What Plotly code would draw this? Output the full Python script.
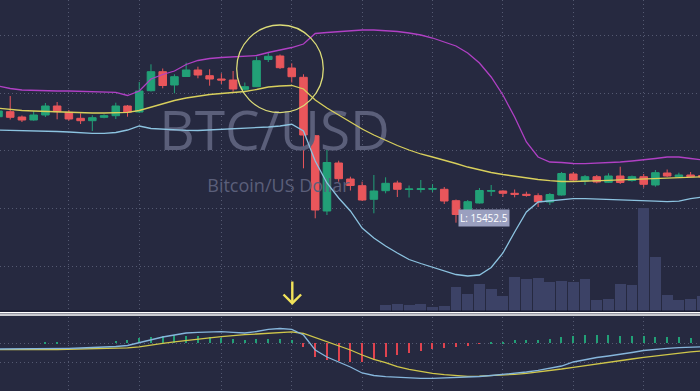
import plotly.graph_objects as go

# ---------------- data ----------------
idx = list(range(61))

open_ = [19692, 19892, 19680, 19560, 19760, 20120, 19868, 19628, 19532, 19668,
         19732, 20120, 19880, 20732, 21492, 20960, 21300, 21560, 21332, 21200,
         21160, 20788, 20892, 21980, 22120, 21640, 21268, 18932, 15920, 17840,
         17200, 16932, 16388, 16732, 17040, 16780, 16780, 16788, 16788, 16332,
         15840, 16240, 16708, 16720, 16628, 16588, 16532, 16280, 16560, 17400,
         17120, 17292, 17068, 17320, 17140, 17292, 16960, 17440, 17292, 17360,
         17340]
high = [19960, 20520, 19740, 19920, 20240, 20280, 19960, 19828, 19748, 19788,
        20252, 20160, 21080, 21788, 21620, 21388, 21852, 21692, 21588, 21428,
        21520, 21060, 22092, 22268, 22180, 21828, 21388, 18960, 18480, 17932,
        17292, 17092, 17360, 17268, 17132, 16940, 17160, 17000, 16880, 16380,
        16360, 16840, 16960, 16748, 16780, 16692, 16628, 16640, 17480, 17480,
        17360, 17360, 17428, 17692, 17340, 17400, 17560, 17580, 17452, 17480,
        17440]
low = [19640, 19580, 19480, 19532, 19680, 19588, 19532, 19400, 19120, 19628,
       19600, 19692, 19840, 20700, 20828, 20628, 21280, 21228, 20932, 21000,
       20692, 20692, 20880, 21880, 21600, 21060, 17628, 15628, 15760, 17092,
       16740, 16320, 15828, 16628, 16480, 16460, 16660, 16680, 16200, 15452.5,
       15760, 16220, 16520, 16480, 16468, 16492, 16080, 16160, 16540, 17092,
       16960, 17028, 17040, 17000, 17092, 16852, 16892, 17280, 17268, 17280,
       17240]
close = [19920, 19668, 19560, 19760, 20120, 19892, 19600, 19532, 19652, 19732,
         20120, 19868, 20720, 21492, 20940, 21292, 21560, 21360, 21200, 21160,
         20800, 20892, 21932, 22108, 21652, 21292, 18960, 15960, 17860, 17212,
         16940, 16360, 16720, 17028, 16788, 16800, 16812, 16820, 16320, 15780,
         16292, 16740, 16740, 16628, 16588, 16548, 16292, 16580, 17420, 17160,
         17292, 17080, 17320, 17060, 17292, 16988, 17452, 17320, 17360, 17292,
         17280]

bb_basis = [20028, 19980, 19940, 19920, 19900, 19880, 19868, 19852, 19840, 19840,
            19840, 19868, 19940, 20080, 20220, 20340, 20440, 20520, 20580, 20620,
            20652, 20700, 20780, 20880, 20920, 20940, 20800, 20360, 20040, 19760,
            19480, 19200, 18960, 18740, 18540, 18360, 18200, 18080, 17960, 17820,
            17680, 17560, 17460, 17380, 17308, 17240, 17180, 17132, 17100, 17100,
            17108, 17128, 17148, 17168, 17188, 17200, 17220, 17240, 17260, 17280,
            17288]
bb_upper = [20920, 20820, 20760, 20740, 20732, 20720, 20720, 20708, 20700, 20680,
            20668, 20540, 20720, 21200, 21380, 21520, 21780, 21940, 22020, 22060,
            22080, 22092, 22140, 22260, 22360, 22460, 22600, 23020, 23060, 23100,
            23140, 23160, 23160, 23140, 23100, 23040, 22960, 22840, 22680, 22520,
            22240, 21840, 21280, 20560, 19680, 18680, 18080, 17880, 17860, 17820,
            17812, 17828, 17852, 17880, 17920, 17960, 18020, 18080, 18080, 18020,
            17960]
bb_lower = [19160, 19152, 19140, 19132, 19120, 19100, 19080, 19052, 19028, 19028,
            19060, 19160, 19320, 19220, 19188, 19160, 19148, 19140, 19160, 19180,
            19200, 19220, 19240, 19280, 19320, 19388, 19120, 17920, 17040, 16440,
            15920, 15240, 14840, 14520, 14240, 13980, 13820, 13680, 13520, 13380,
            13320, 13360, 13660, 14240, 15080, 15880, 16280, 16320, 16380, 16412,
            16412, 16400, 16388, 16372, 16352, 16332, 16312, 16292, 16312, 16412,
            16480]

vol_idx = list(range(33, 61))
volume = [600, 670, 600, 700, 370, 530, 2400, 1700, 2730, 2170,
          1470, 3370, 3200, 3270, 2870, 3030, 2870, 3200, 1070, 1170,
          2670, 2570, 10340, 5370, 1570, 1070, 1170, 1470]

macd = [-57, -57, -57, -57, -54, -52, -50, -47, -44, -40,
        -32, -22, 8, 33, 63, 83, 103, 110, 116, 116,
        110, 103, 118, 140, 148, 140, 83, -67, -137, -187,
        -237, -297, -322, -334, -340, -347, -350, -350, -347, -344,
        -337, -332, -322, -312, -300, -287, -270, -252, -227, -187,
        -162, -142, -127, -112, -92, -72, -59, -50, -44, -37,
        -34]
signal = [-64, -62, -62, -62, -62, -62, -59, -57, -55, -52,
          -50, -45, -35, -15, 0, 15, 30, 43, 55, 66,
          78, 86, 93, 101, 108, 115, 98, 58, 18, -24,
          -67, -117, -160, -194, -234, -260, -282, -300, -314, -324,
          -330, -329, -325, -317, -310, -300, -287, -272, -257, -240,
          -222, -204, -187, -172, -157, -140, -125, -110, -97, -85,
          -77]
hist = [0, 0, 0, 0, 15, 15, 0, 0, 0, 0,
        27, 33, 55, 67, 73, 83, 77, 73, 60, 50,
        40, 33, 40, 47, 43, 33, -33, -140, -167, -173,
        -183, -183, -167, -140, -117, -100, -73, -60, -50, -33,
        -27, -7, 7, 17, 33, 33, 33, 43, 67, 77,
        83, 83, 83, 73, 73, 73, 67, 67, 60, 50,
        40]

x_grid = [6, 12, 19, 25, 31, 37, 43, 49, 55]
price_grid = [13720, 16040, 18340, 20640, 22960]
macd_grid = [0, -190]

# ---------------- style ----------------
BG = '#262940'
GRID = '#545971'
GREEN = '#22a077'
RED = '#e9565b'
W, H = 700, 391


def px(x):
    return x / W


def py(y):
    return 1 - y / H


fig = go.Figure()

# watermark (drawn first so that it sits under everything)
fig.add_trace(go.Scatter(x=[13.7], y=[18924], mode='text', text=['BTC/USD'],
                         textposition='middle right',
                         textfont=dict(family='Open Sans', size=55, color='#5b5f7a'),
                         hoverinfo='skip', showlegend=False))
fig.add_trace(go.Scatter(x=[17.8], y=[16860], mode='text', text=['Bitcoin/US Dollar'],
                         textposition='middle right',
                         textfont=dict(family='Open Sans', size=18, color='#5b5f7a'),
                         hoverinfo='skip', showlegend=False))

fig.add_trace(go.Candlestick(x=idx, open=open_, high=high, low=low, close=close,
                             increasing=dict(line=dict(color=GREEN, width=1), fillcolor=GREEN),
                             decreasing=dict(line=dict(color=RED, width=1), fillcolor=RED),
                             whiskerwidth=0, showlegend=False, hoverinfo='skip'))

fig.add_trace(go.Scatter(x=idx, y=bb_upper, mode='lines', line=dict(color='#b040c4', width=1.3),
                         showlegend=False, hoverinfo='skip'))
fig.add_trace(go.Scatter(x=idx, y=bb_lower, mode='lines', line=dict(color='#8cc3e0', width=1.3),
                         showlegend=False, hoverinfo='skip'))
fig.add_trace(go.Scatter(x=idx, y=bb_basis, mode='lines', line=dict(color='#d8cf5c', width=1.3),
                         showlegend=False, hoverinfo='skip'))

fig.add_trace(go.Bar(x=vol_idx, y=volume, width=0.93, marker=dict(color='#3c4266', line=dict(width=0)),
                     yaxis='y3', showlegend=False, hoverinfo='skip'))

# MACD panel
fig.add_trace(go.Bar(x=idx, y=hist, width=0.1,
                     marker=dict(color=[GREEN if v >= 0 else '#e0434f' for v in hist], line=dict(width=0)),
                     xaxis='x2', yaxis='y2', showlegend=False, hoverinfo='skip'))
fig.add_trace(go.Scatter(x=idx, y=signal, mode='lines', line=dict(color='#cfc64a', width=1.3),
                         xaxis='x2', yaxis='y2', showlegend=False, hoverinfo='skip'))
fig.add_trace(go.Scatter(x=idx, y=macd, mode='lines', line=dict(color='#86b6dc', width=1.3),
                         xaxis='x2', yaxis='y2', showlegend=False, hoverinfo='skip'))

main_dom = [1 - 311 / H, 1]
macd_dom = [0, 74 / H]
xr = [0.13, 59.8]

axis_common = dict(showticklabels=False, zeroline=False, showline=False, ticks='',
                   gridcolor=GRID, griddash='1px,3px', gridwidth=1)

fig.update_layout(
    width=W, height=H, margin=dict(l=0, r=0, t=0, b=0),
    paper_bgcolor=BG, plot_bgcolor=BG, showlegend=False,
    boxgap=0.3, boxgroupgap=0.08, bargap=0,
    xaxis=dict(domain=[0, 1], range=xr, anchor='y', tickvals=x_grid, showgrid=True,
               rangeslider=dict(visible=False), **axis_common),
    yaxis=dict(domain=main_dom, range=[11920, 24360], tickvals=price_grid, showgrid=True,
               anchor='x', **axis_common),
    yaxis3=dict(overlaying='y', range=[0, 31100], visible=False, showgrid=False, anchor='x'),
    xaxis2=dict(domain=[0, 1], range=xr, anchor='y2', matches='x', tickvals=x_grid, showgrid=True,
                **axis_common),
    yaxis2=dict(domain=macd_dom, range=[-477, 263], tickvals=macd_grid, showgrid=True,
                anchor='x2', **axis_common),
    shapes=[
        # highlight circle
        dict(type='circle', xref='paper', yref='paper',
             x0=px(236.7), x1=px(323.3), y0=py(112.7), y1=py(25),
             line=dict(color='#dcdc78', width=1.3)),
        # arrow
        dict(type='path', xref='paper', yref='paper',
             path=f'M {px(292.3)} {py(281.5)} L {px(292.3)} {py(302.5)}',
             line=dict(color='#f2e35a', width=2.4)),
        dict(type='path', xref='paper', yref='paper',
             path=f'M {px(283.5)} {py(294.5)} L {px(292.3)} {py(303.2)} L {px(301.1)} {py(294.5)}',
             line=dict(color='#f2e35a', width=2.4)),
        # panel separator
        dict(type='line', xref='paper', yref='paper', x0=0, x1=1, y0=py(311), y1=py(311),
             line=dict(color='#14172a', width=1)),
        dict(type='line', xref='paper', yref='paper', x0=0, x1=1, y0=py(312.8), y1=py(312.8),
             line=dict(color='#ffffff', width=1.6)),
        dict(type='line', xref='paper', yref='paper', x0=0, x1=1, y0=py(315.0), y1=py(315.0),
             line=dict(color='#ffffff', width=1.4)),
    ],
    annotations=[
        dict(x=39, y=15452.5, xref='x', yref='y', text='L: 15452.5', showarrow=False,
             xanchor='left', yanchor='middle', xshift=2, yshift=5,
             font=dict(family='Open Sans', size=10, color='#ffffff'),
             bgcolor='#9a9fbf', borderpad=1),
    ],
)

fig.write_html('out.html')
